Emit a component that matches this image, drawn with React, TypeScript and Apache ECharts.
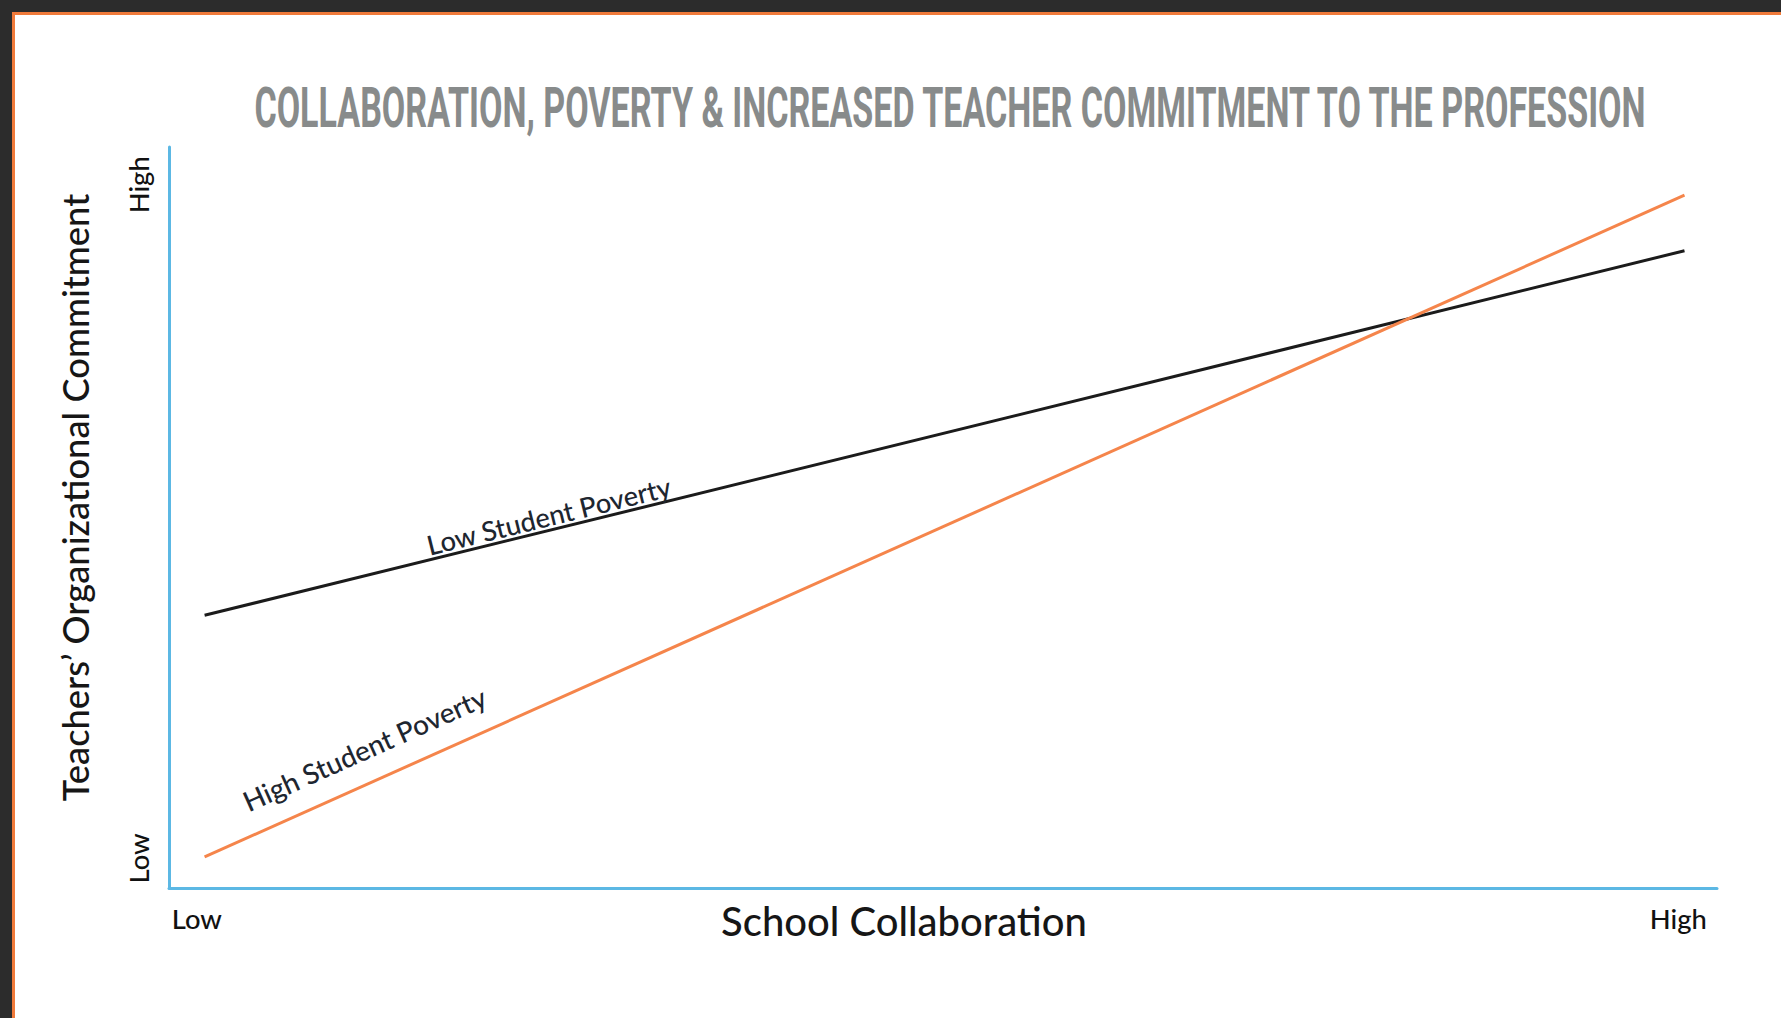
import React, { useEffect, useRef } from "react";
import * as echarts from "echarts";

// ---- Data ----
const TITLE = "COLLABORATION, POVERTY & INCREASED TEACHER COMMITMENT TO THE PROFESSION";
const X_NAME = "School Collaboration";
const Y_NAME = "Teachers\u2019 Organizational Commitment";

const xTickValues = [1.8, 97.5];
const xTickLabels = ["Low", "High"];
const yTickValues = [4.0, 94.9];
const yTickLabels = ["Low", "High"];

const seriesNames = ["Low Student Poverty", "High Student Poverty"];
const collaborationX = [2.3, 97.9];
const lowPovertyY = [36.8, 86.0];
const highPovertyY = [4.2, 93.5];
// where along each line (in x data units) its name is written
const labelAtX = [24.75, 13.5];

// ---- Layout / style ----
const W = 1781;
const H = 1018;
const GRID = { left: 169, top: 147, width: 1548, height: 741 };
const AXIS_BLUE = "#5cb8e4";
const LINE_COLORS = ["#1b1b1b", "#f5854b"];
const SANS = "Lato";
const LABEL_GAPS = [1, 19];
const LABEL_LENGTHS = [251, 263];

function measure(text: string, weight: string | number, family: string, size: number) {
  const c = document.createElement("canvas").getContext("2d")!;
  c.font = `${weight} ${size}px ${family}`;
  return c.measureText(text).width;
}
function fitSize(text: string, weight: string | number, family: string, target: number) {
  return (target / measure(text, weight, family, 100)) * 100;
}
function nearestLabel(values: number[], labels: string[], v: number) {
  let best = 0;
  for (let i = 1; i < values.length; i++) {
    if (Math.abs(values[i] - v) < Math.abs(values[best] - v)) best = i;
  }
  return labels[best];
}

export default function App() {
  const ref = useRef<HTMLDivElement>(null);

  useEffect(() => {
    const el = ref.current!;
    const chart = echarts.init(el, null, { renderer: "svg" });

    const tickSize = fitSize("High", 500, SANS, 57);
    const yNameSize = fitSize(Y_NAME, 500, SANS, 608);
    const xNameSize = fitSize(X_NAME, 500, SANS, 366);
    const titleSize = 56;
    const titleScaleX = 1395 / measure(TITLE, 700, "Roboto", titleSize);
    const lineLabelSizes = seriesNames.map((n, i) => fitSize(n, 500, SANS, LABEL_LENGTHS[i]));

    const baseGraphic: any[] = [
      { id: "frameTop", type: "rect", shape: { x: 0, y: 0, width: W, height: 12 }, style: { fill: "#2c2c2c" }, silent: true },
      { id: "frameLeft", type: "rect", shape: { x: 0, y: 0, width: 12, height: H }, style: { fill: "#2c2c2c" }, silent: true },
      { id: "orangeTop", type: "rect", shape: { x: 12, y: 12, width: W - 12, height: 3 }, style: { fill: "#f07a3a" }, silent: true },
      { id: "orangeLeft", type: "rect", shape: { x: 12, y: 12, width: 3, height: H - 12 }, style: { fill: "#f07a3a" }, silent: true },
      {
        id: "title",
        type: "text",
        x: 950,
        y: 108,
        scaleX: titleScaleX,
        scaleY: 1,
        style: {
          text: TITLE,
          fill: "#888b8b",
          fontFamily: "Roboto",
          fontWeight: 700,
          fontSize: titleSize,
          align: "center",
          verticalAlign: "middle",
        },
      },
    ];

    const series = [lowPovertyY, highPovertyY].map((ys, i) => ({
      name: seriesNames[i],
      type: "line",
      data: collaborationX.map((x, j) => [x, ys[j]]),
      symbol: "none",
      lineStyle: { color: LINE_COLORS[i], width: 3 },
      z: 3 + i,
    }));

    const option: any = {
      animation: false,
      backgroundColor: "#ffffff",
      grid: { ...GRID, containLabel: false },
      xAxis: {
        type: "value",
        min: 0,
        max: 100,
        axisLine: { show: true, onZero: false, lineStyle: { color: AXIS_BLUE, width: 3 } },
        axisTick: { show: false },
        splitLine: { show: false },
        axisLabel: {
          customValues: xTickValues,
          formatter: (v: number) => nearestLabel(xTickValues, xTickLabels, v),
          color: "#111111",
          fontFamily: SANS,
          fontWeight: 500,
          fontSize: tickSize,
          margin: 17,
        },
        name: X_NAME,
        nameLocation: "middle",
        nameGap: 13,
        nameMoveOverlap: false,
        nameTextStyle: {
          color: "#161616",
          fontFamily: SANS,
          fontWeight: 500,
          fontSize: xNameSize,
          padding: [0, 78, 0, 0],
        },
      },
      yAxis: {
        type: "value",
        min: 0,
        max: 100,
        axisLine: { show: true, onZero: false, lineStyle: { color: AXIS_BLUE, width: 3 } },
        axisTick: { show: false },
        splitLine: { show: false },
        axisLabel: {
          customValues: yTickValues,
          formatter: (v: number) => nearestLabel(yTickValues, yTickLabels, v),
          rotate: 90,
          color: "#111111",
          fontFamily: SANS,
          fontWeight: 500,
          fontSize: tickSize,
          margin: 17,
        },
        name: Y_NAME,
        nameLocation: "middle",
        nameRotate: 90,
        nameGap: 76,
        nameMoveOverlap: false,
        nameTextStyle: {
          color: "#161616",
          fontFamily: SANS,
          fontWeight: 500,
          fontSize: yNameSize,
          padding: [0, 0, 0, 40],
        },
      },
      series,
      graphic: baseGraphic,
    };

    chart.setOption(option);

    // names written along the lines
    const lineLabels = [lowPovertyY, highPovertyY].map((ys, i) => {
      const x0 = collaborationX[0];
      const x1 = collaborationX[1];
      const p0 = chart.convertToPixel({ gridIndex: 0 }, [x0, ys[0]]) as number[];
      const p1 = chart.convertToPixel({ gridIndex: 0 }, [x1, ys[1]]) as number[];
      const ax = labelAtX[i];
      const ay = ys[0] + ((ax - x0) * (ys[1] - ys[0])) / (x1 - x0);
      const pa = chart.convertToPixel({ gridIndex: 0 }, [ax, ay]) as number[];
      const angle = Math.atan2(-(p1[1] - p0[1]), p1[0] - p0[0]);
      return {
        id: "lineLabel" + i,
        type: "text",
        x: pa[0],
        y: pa[1],
        rotation: angle,
        z: 10,
        style: {
          text: seriesNames[i],
          x: 0,
          y: -LABEL_GAPS[i],
          fill: "#1e2630",
          fontFamily: SANS,
          fontWeight: 500,
          fontSize: lineLabelSizes[i],
          align: "center",
          verticalAlign: "bottom",
        },
      };
    });

    chart.setOption({ graphic: [...baseGraphic, ...lineLabels] });

    return () => chart.dispose();
  }, []);

  return (
    <div
      ref={ref}
      style={{ position: "absolute", left: 0, top: 0, width: W, height: H, background: "#fff" }}
    />
  );
}
